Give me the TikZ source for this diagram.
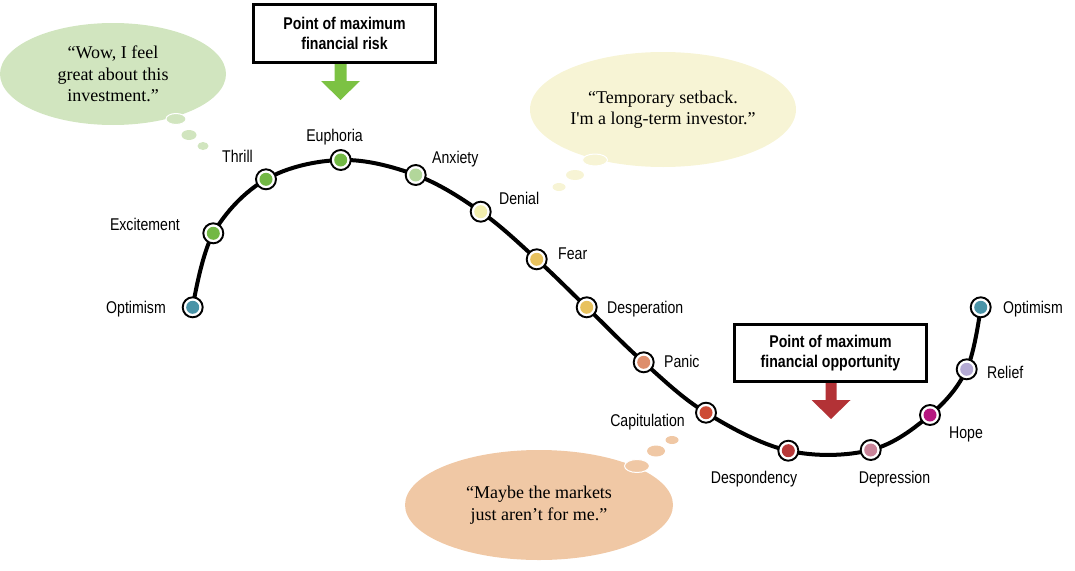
\documentclass[tikz,border=0pt]{standalone}
\usepackage{fontspec}
\setmainfont{Liberation Serif}
\newfontfamily\narrowfont[FakeStretch=0.83]{Liberation Sans}
\usetikzlibrary{shapes.geometric}

\definecolor{cOptimism}{HTML}{4A94A8}
\definecolor{cThrill}{HTML}{72B844}
\definecolor{cAnxiety}{HTML}{B2D69A}
\definecolor{cDenial}{HTML}{F2EEAE}
\definecolor{cFear}{HTML}{E8C25E}
\definecolor{cPanic}{HTML}{DE8E6C}
\definecolor{cCapitulation}{HTML}{CD4B35}
\definecolor{cDespondency}{HTML}{B73838}
\definecolor{cDepression}{HTML}{C98499}
\definecolor{cHope}{HTML}{B5177F}
\definecolor{cRelief}{HTML}{B4AAD4}
\definecolor{bubbleGreen}{HTML}{D1E5BF}
\definecolor{bubbleYellow}{HTML}{F7F4D5}
\definecolor{bubbleOrange}{HTML}{F0C8A5}
\definecolor{arrowGreen}{HTML}{7CC243}
\definecolor{arrowRed}{HTML}{B33236}

\begin{document}
\begin{tikzpicture}[x=1pt,y=-1pt,
  stage/.style={circle,draw=black,line width=1.9pt,fill=white,minimum size=20pt,inner sep=0pt,
    path picture={\fill[#1] (path picture bounding box.center) circle (6.5pt);}},
  lbl/.style={font=\narrowfont\fontsize{17}{20}\selectfont,inner sep=0pt,text height=12pt,text depth=0pt},
  bubble/.style={ellipse,inner sep=0pt,align=center,font=\fontsize{18}{21.5}\selectfont},
  callout/.style={draw=black,line width=3pt,fill=white,align=center,inner sep=0pt,
    font=\narrowfont\bfseries\fontsize{17}{20}\selectfont}]
  \useasboundingbox (0,0) rectangle (1075,570);

  % thought bubbles
  \node[bubble,fill=bubbleGreen,minimum width=226pt,minimum height=102pt] (wow) at (113,74)
    {``Wow, I feel\\great about this\\investment.''};
  \fill[bubbleGreen,draw=white,line width=1pt] (176,119) ellipse (10 and 5.5);
  \fill[bubbleGreen] (189,135) ellipse (7.5 and 5);
  \fill[bubbleGreen] (203,146) ellipse (5.5 and 4);

  \node[bubble,fill=bubbleYellow,minimum width=266pt,minimum height=115pt] (setback) at (663,109.5)
    {``Temporary setback.\\I\textquotesingle m a long-term investor.''};
  \fill[bubbleYellow,draw=white,line width=1pt] (595,160) ellipse (12.5 and 6);
  \fill[bubbleYellow] (575,175) ellipse (9 and 5);
  \fill[bubbleYellow] (559,187) ellipse (6.5 and 4);

  \node[bubble,fill=bubbleOrange,minimum width=268pt,minimum height=110pt] (maybe) at (539,505)
    {``Maybe the markets\\just aren't for me.''};
  \fill[bubbleOrange,draw=white,line width=1pt] (637,466) ellipse (12.5 and 6.5);
  \fill[bubbleOrange] (656,451) ellipse (9 and 5.5);
  \fill[bubbleOrange] (672,440) ellipse (6.5 and 4);

  % points on the cycle
  \coordinate (p1) at (192.7,307.3);
  \coordinate (p2) at (213.3,233.3);
  \coordinate (p3) at (266,179.3);
  \coordinate (p4) at (340.7,160);
  \coordinate (p5) at (415.7,175);
  \coordinate (p6) at (480.7,211.7);
  \coordinate (p7) at (536.7,259.3);
  \coordinate (p8) at (586.7,307.3);
  \coordinate (p9) at (643.7,362.3);
  \coordinate (p10) at (706,412.7);
  \coordinate (p11) at (788.3,450.7);
  \coordinate (p12) at (870.7,450);
  \coordinate (p13) at (930,415);
  \coordinate (p14) at (966.7,369.3);
  \coordinate (p15) at (980.7,307.3);

  \draw[line width=4pt] plot[smooth,tension=0.6] coordinates
    {(p1) (p2) (p3) (p4) (p5) (p6) (p7) (p8) (p9) (p10) (p11) (p12) (p13) (p14) (p15)};

  \node[stage=cOptimism] (optimism) at (p1) {};
  \node[lbl,anchor=east] (optimism-l) at (166,307) {Optimism};
  \node[stage=cThrill] (excitement) at (p2) {};
  \node[lbl,anchor=east] (excitement-l) at (180,224) {Excitement};
  \node[stage=cThrill] (thrill) at (p3) {};
  \node[lbl,anchor=east] (thrill-l) at (253,156) {Thrill};
  \node[stage=cThrill] (euphoria) at (p4) {};
  \node[lbl] (euphoria-l) at (334.5,135) {Euphoria};
  \node[stage=cAnxiety] (anxiety) at (p5) {};
  \node[lbl,anchor=west] (anxiety-l) at (432,157) {Anxiety};
  \node[stage=cDenial] (denial) at (p6) {};
  \node[lbl,anchor=west] (denial-l) at (499,198) {Denial};
  \node[stage=cFear] (fear) at (p7) {};
  \node[lbl,anchor=west] (fear-l) at (558,253) {Fear};
  \node[stage=cFear] (desperation) at (p8) {};
  \node[lbl,anchor=west] (desperation-l) at (607,307) {Desperation};
  \node[stage=cPanic] (panic) at (p9) {};
  \node[lbl,anchor=west] (panic-l) at (664,361) {Panic};
  \node[stage=cCapitulation] (capitulation) at (p10) {};
  \node[lbl,anchor=east] (capitulation-l) at (685,420) {Capitulation};
  \node[stage=cDespondency] (despondency) at (p11) {};
  \node[lbl] (despondency-l) at (754,477) {Despondency};
  \node[stage=cDepression] (depression) at (p12) {};
  \node[lbl] (depression-l) at (894.5,477) {Depression};
  \node[stage=cHope] (hope) at (p13) {};
  \node[lbl,anchor=west] (hope-l) at (949,432) {Hope};
  \node[stage=cRelief] (relief) at (p14) {};
  \node[lbl,anchor=west] (relief-l) at (987,372) {Relief};
  \node[stage=cOptimism] (optimism2) at (p15) {};
  \node[lbl,anchor=west] (optimism2-l) at (1003,307) {Optimism};

  % callouts
  \node[callout,minimum width=182pt,minimum height=58pt] (risk) at (344.5,33.5)
    {Point of maximum\\financial risk};
  \fill[arrowGreen] ([xshift=-10pt]risk.south) -- ++(0,17) -- ++(-13.5,0) -- ++(19.5,19)
    -- ++(19.5,-19) -- ++(-13.5,0) -- ++(0,-17) -- cycle;

  \node[callout,minimum width=192pt,minimum height=57pt] (opportunity) at (830.5,353)
    {Point of maximum\\financial opportunity};
  \fill[arrowRed] ([xshift=-5pt]opportunity.south) -- ++(0,17) -- ++(-14,0) -- ++(19.5,19)
    -- ++(19.5,-19) -- ++(-14,0) -- ++(0,-17) -- cycle;
\end{tikzpicture}
\end{document}
